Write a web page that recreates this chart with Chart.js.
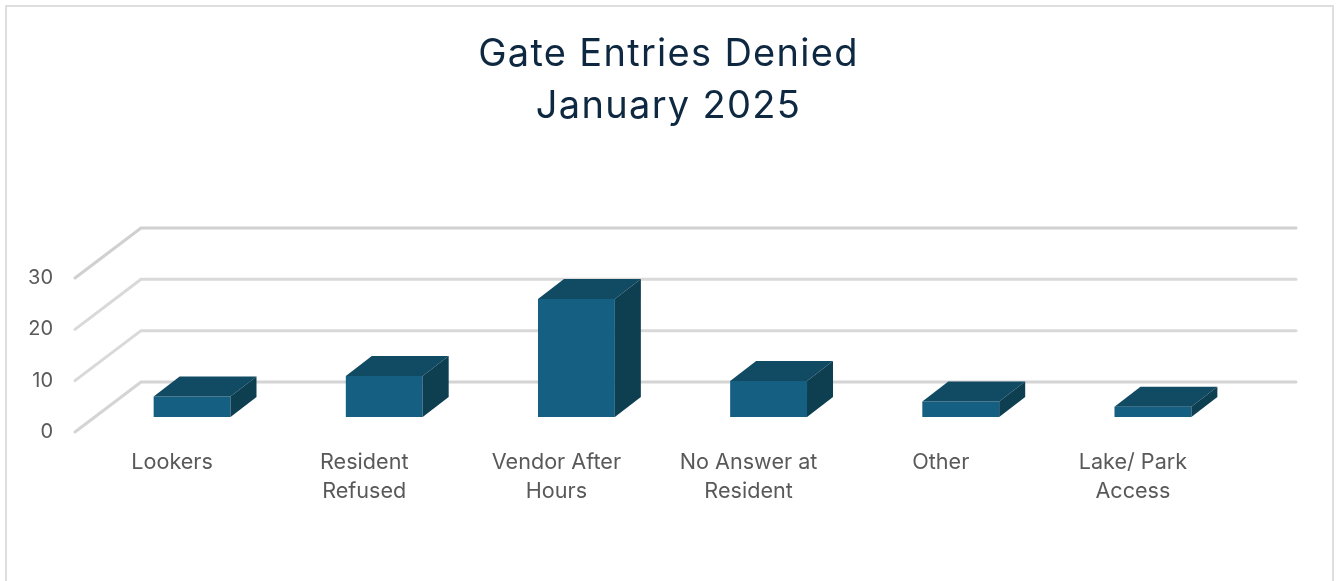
<!DOCTYPE html>
<html><head><meta charset="utf-8">
<style>html,body{margin:0;padding:0;background:#fff;overflow:hidden}canvas{display:block}</style>
<script src="https://cdn.jsdelivr.net/npm/chart.js@4"></script>
</head><body>
<canvas id="c" width="1341" height="581"></canvas>
<script>
const categories = [["Lookers"],["Resident","Refused"],["Vendor After","Hours"],["No Answer at","Resident"],["Other"],["Lake/ Park","Access"]];
const deniedEntries = [4, 8, 23, 7, 3, 2];
const titleLines = ["Gate Entries Denied","January 2025"];

const FRONT='#156082', TOP='#114A63', SIDE='#0D3F50', GRID='#D9D9D9';
const fontFam='Inter, "Open Sans", sans-serif';
const frame3d={id:'frame3d',
  afterLayout(ch){const t=ch.titleBlock;if(t&&!t._spaced){const d=t.draw.bind(t),c=ch.ctx;
      t.draw=function(){c.letterSpacing='1.3px';d();c.letterSpacing='0px';};t._spaced=true;}},
  beforeDraw(ch){const c=ch.ctx;c.save();c.fillStyle='#fff';c.fillRect(0,0,ch.width,ch.height);
    c.strokeStyle='#DEDEDE';c.lineWidth=2;c.beginPath();c.moveTo(6,581);c.lineTo(6,6);c.lineTo(1333,6);c.lineTo(1333,581);c.stroke();c.restore();},
  beforeDatasetsDraw(ch){const c=ch.ctx,a=ch.chartArea,y=ch.scales.y;c.save();c.lineWidth=3;c.lineCap='round';
    y.ticks.forEach((t,i)=>{const p=y.getPixelForTick(i);
      c.strokeStyle=i===y.ticks.length-1?'#D0D0D0':(i===0?'#D4D4D4':GRID);
      c.beginPath();c.moveTo(a.left-21,p+15);c.lineTo(a.left+45,p-35);c.lineTo(a.right+47,p-35);c.stroke();});
    c.restore();},
  afterDatasetsDraw(ch){const c=ch.ctx,dx=26,dy=20;c.save();
    ch.getDatasetMeta(0).data.forEach(b=>{const l=b.x-b.width/2,r=b.x+b.width/2,t=b.y,bot=b.base;
      c.fillStyle=TOP;c.beginPath();c.moveTo(l,t);c.lineTo(l+dx,t-dy);c.lineTo(r+dx,t-dy);c.lineTo(r,t);c.closePath();c.fill();
      c.fillStyle=SIDE;c.beginPath();c.moveTo(r,t);c.lineTo(r+dx,t-dy);c.lineTo(r+dx,bot-dy);c.lineTo(r,bot);c.closePath();c.fill();});
    c.restore();}
};
new Chart(document.getElementById('c'),{
  type:'bar',
  data:{labels:categories,datasets:[{label:'Denied',data:deniedEntries,backgroundColor:FRONT,borderWidth:0,barPercentage:0.4,categoryPercentage:1}]},
  plugins:[frame3d],
  options:{responsive:false,animation:false,
    layout:{autoPadding:false,padding:{left:0,right:4,top:0,bottom:0}},
    plugins:{legend:{display:false},tooltip:{enabled:false},
      title:{display:true,text:titleLines,color:'#0E2841',align:'center',fullSize:true,
        font:{family:fontFam,size:38,weight:'400',lineHeight:52/38},padding:{top:29,bottom:130}}},
    scales:{
      y:{min:0,max:30,grid:{display:false},border:{display:false},
        afterFit(s){s.width=96;},
        ticks:{stepSize:10,color:'#595959',font:{family:fontFam,size:20},padding:35,labelOffset:15}},
      yRight:{position:'right',min:0,max:30,grid:{display:false},border:{display:false},
        afterFit(s){s.width=88;},
        ticks:{display:false}},
      x:{grid:{display:false},border:{display:false},
        afterFit(s){s.height=164;},
        ticks:{color:'#595959',font:{family:fontFam,size:21.6,lineHeight:1.34},padding:23,labelOffset:-20,maxRotation:0,minRotation:0,autoSkip:false}}
    }}
});
</script>
</body></html>
